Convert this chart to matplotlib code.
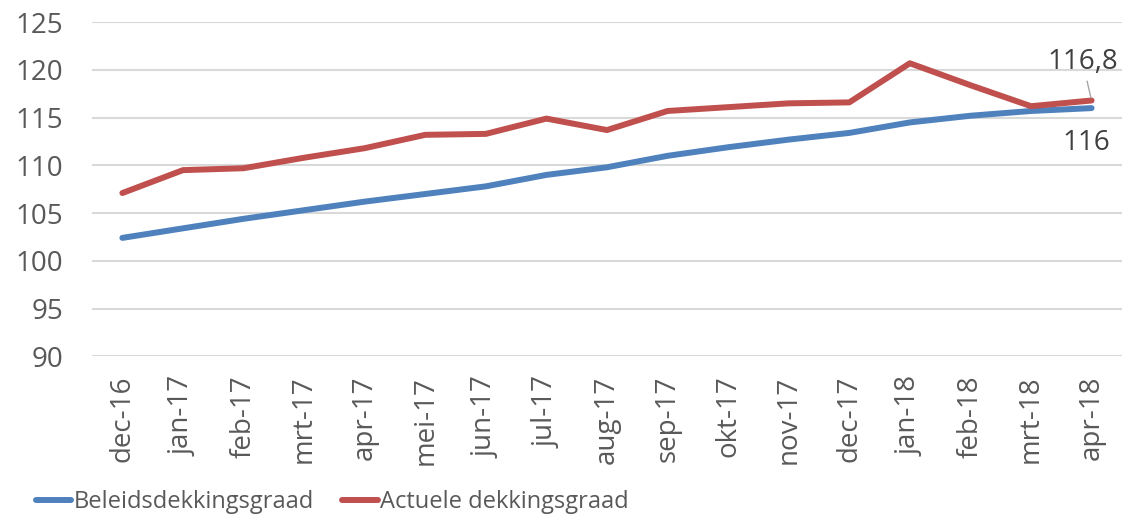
import matplotlib.pyplot as plt
import numpy as np

months = ["dec-16", "jan-17", "feb-17", "mrt-17", "apr-17", "mei-17", "jun-17",
          "jul-17", "aug-17", "sep-17", "okt-17", "nov-17", "dec-17", "jan-18",
          "feb-18", "mrt-18", "apr-18"]
beleid = [102.4, 103.4, 104.4, 105.3, 106.2, 107.0, 107.8, 109.0, 109.8,
          111.0, 111.9, 112.7, 113.4, 114.5, 115.2, 115.7, 116.0]
actueel = [107.1, 109.5, 109.7, 110.8, 111.8, 113.2, 113.3, 114.9, 113.7,
           115.7, 116.1, 116.5, 116.6, 120.7, 118.4, 116.2, 116.8]

BLUE = "#4F81BD"
RED = "#C0504D"
TXT = "#595959"

plt.rcParams["font.family"] = ["Open Sans", "DejaVu Sans"]

fig = plt.figure(figsize=(11.23, 5.17), dpi=100)
ax = fig.add_axes([0.082, 0.311, 0.917, 0.646])

x = np.arange(len(months))
ax.plot(x, beleid, color=BLUE, lw=4.3, solid_capstyle="round",
        label="Beleidsdekkingsgraad", zorder=3)
ax.plot(x, actueel, color=RED, lw=4.3, solid_capstyle="round",
        label="Actuele dekkingsgraad", zorder=3)

ax.set_xlim(-0.5, len(months) - 0.5)
ax.set_ylim(90, 125)
ax.set_yticks(range(90, 126, 5))
ax.set_xticks(x)
ax.set_xticklabels(months, rotation=90)
ax.tick_params(axis="both", length=0, colors=TXT, labelsize=20)
ax.tick_params(axis="y", pad=21)
ax.tick_params(axis="x", pad=14)
ax.grid(axis="y", color="#D9D9D9", lw=1.5)
ax.set_axisbelow(True)
for s in ax.spines.values():
    s.set_visible(False)

# data labels at the last point
last = len(months) - 1
ax.annotate(f"{actueel[-1]:.1f}".replace(".", ","), xy=(last, actueel[-1]),
            xytext=(last - 0.15, 119.4), ha="center", va="bottom",
            fontsize=20, color="#404040",
            arrowprops=dict(arrowstyle="-", color="#A6A6A6", lw=1))
ax.text(last - 0.08, 112.3, f"{beleid[-1]:.0f}", ha="center", va="center",
        fontsize=20, color="#404040")

leg = fig.legend(loc="lower center", bbox_to_anchor=(0.296, -0.035), ncol=2,
                 frameon=False, handlelength=1.5, handletextpad=0.1,
                 columnspacing=1.2, prop={"size": 17})
for t in leg.get_texts():
    t.set_color(TXT)

fig.savefig("out.png", dpi=100)
